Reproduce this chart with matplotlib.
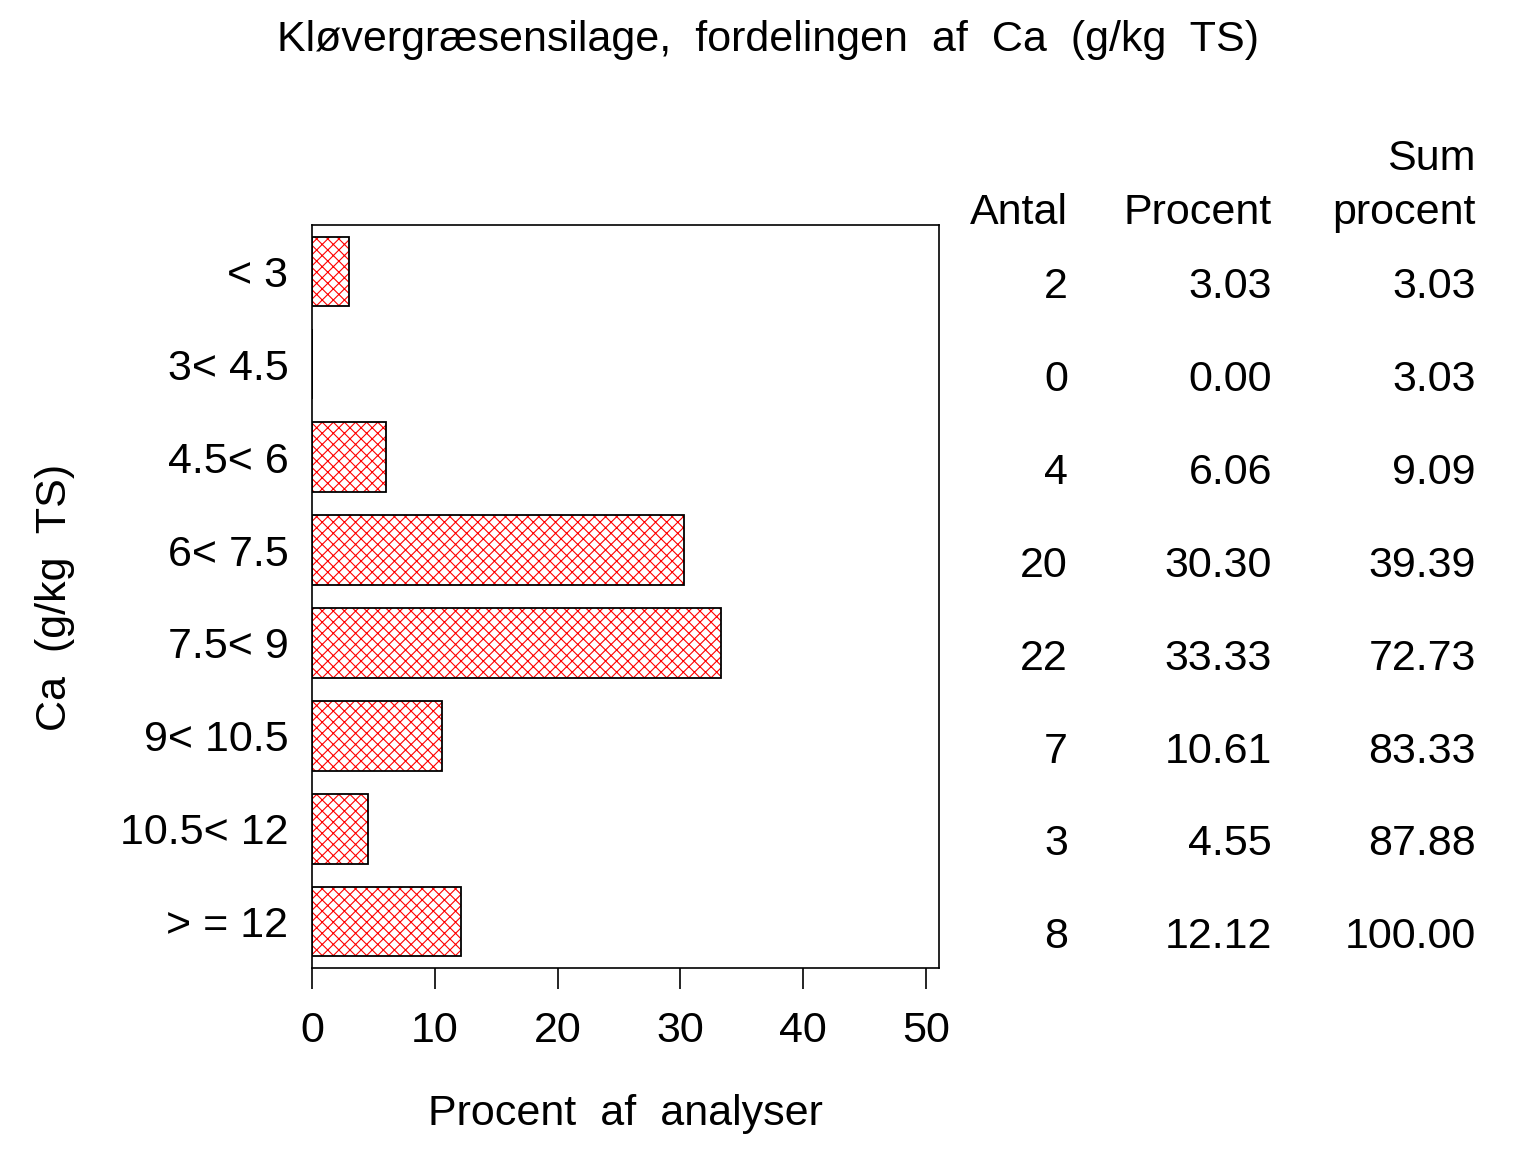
import numpy as np
import matplotlib.pyplot as plt
from matplotlib.transforms import blended_transform_factory

plt.rcParams['font.family'] = ['Liberation Sans', 'DejaVu Sans']
plt.rcParams['hatch.linewidth'] = 0.8

# data
klasser = ['< 3', '3< 4.5', '4.5< 6', '6< 7.5', '7.5< 9', '9< 10.5', '10.5< 12', '> = 12']
antal = [2, 0, 4, 20, 22, 7, 3, 8]
procent = [3.03, 0.00, 6.06, 30.30, 33.33, 10.61, 4.55, 12.12]
sum_procent = [3.03, 3.03, 9.09, 39.39, 72.73, 83.33, 87.88, 100.00]

fs = 31
fig = plt.figure(figsize=(15.36, 11.52), dpi=100)
ax = fig.add_axes([312/1536, 1-968/1152, (939-312)/1536, (968-225)/1152])

ind = np.arange(len(klasser))
# red crosshatch, then black outline on top
ax.barh(ind, procent, height=0.75, color='white', edgecolor='red',
        linewidth=0, hatch='xxx')
ax.barh(ind, procent, height=0.75, fill=False, edgecolor='black', linewidth=1.3)

ax.set_ylim(len(klasser)-0.5, -0.5)
ax.set_xlim(0, 627/614*50)
ax.set_xticks([0, 10, 20, 30, 40, 50])
ax.set_yticks(ind)
ax.set_yticklabels(klasser)
ax.tick_params(axis='y', length=0, pad=17, labelsize=fs)
ax.tick_params(axis='x', length=15, width=1.2, pad=16, labelsize=fs, direction='out')
for s in ax.spines.values():
    s.set_linewidth(1.2)

ax.set_xlabel('Procent  af  analyser', fontsize=fs, labelpad=31)
fig.text(55/1536, 1-597/1152, 'Ca  (g/kg  TS)', rotation=90, fontsize=fs,
         ha='center', va='center')
fig.text(0.5, 1-40/1152, 'Kløvergræsensilage,  fordelingen  af  Ca  (g/kg  TS)',
         fontsize=fs, ha='center', va='center')

# table to the right
tr = blended_transform_factory(fig.transFigure, ax.transData)
cols = [(1068/1536, antal, '%d'), (1272/1536, procent, '%.2f'), (1476/1536, sum_procent, '%.2f')]
for x, vals, fmt in cols:
    for i, v in enumerate(vals):
        fig.text(x, i + 0.17, fmt % v, transform=tr, fontsize=fs, ha='right', va='center')

hy = 1 - 213/1152
fig.text(1068/1536, hy, 'Antal', fontsize=fs, ha='right', va='center')
fig.text(1272/1536, hy, 'Procent', fontsize=fs, ha='right', va='center')
fig.text(1476/1536, hy, 'procent', fontsize=fs, ha='right', va='center')
fig.text(1476/1536, 1-159/1152, 'Sum', fontsize=fs, ha='right', va='center')

plt.savefig('out.png', dpi=100)
